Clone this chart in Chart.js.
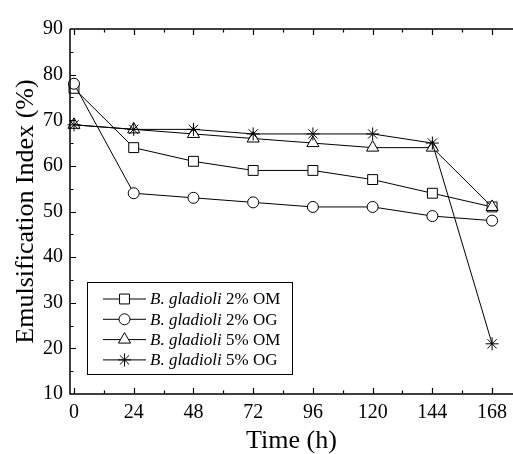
<!DOCTYPE html>
<html>
<head>
<meta charset="utf-8">
<script src="https://cdn.jsdelivr.net/npm/chart.js@4"></script>
<style>
  html, body { margin: 0; padding: 0; background: #fff; }
  #wrap { width: 513px; height: 454px; }
</style>
</head>
<body>
<div id="wrap"><canvas id="chart" width="513" height="454"></canvas></div>
<script>
// time points (h) and emulsification index (%)
const hours = [0, 24, 48, 72, 96, 120, 144, 168];
const om2 = [77, 64, 61, 59, 59, 57, 54, 51];
const og2 = [78, 54, 53, 52, 51, 51, 49, 48];
const om5 = [69, 68, 67, 66, 65, 64, 64, 51];
const og5 = [69, 68, 68, 67, 67, 67, 65, 21];

const seriesNames = ['2% OM', '2% OG', '5% OM', '5% OG'];
const species = 'B. gladioli';
const xTicks = [0, 24, 48, 72, 96, 120, 144, 168];
const yTicks = [10, 20, 30, 40, 50, 60, 70, 80, 90];

const serif = 'Liberation Serif';

const toPoints = (vals) => hours.map((h, i) => ({ x: h, y: vals[i] }));

const markers = [
  { style: 'rect', radius: 7 },
  { style: 'circle', radius: 5.5 },
  { style: 'triangle', radius: 7 },
  { style: 'star', radius: 6.5 }
];

// later series sit on top, as in the original plot
const datasets = [om2, og2, om5, og5].map((vals, i) => ({
  label: species + ' ' + seriesNames[i],
  data: toPoints(vals),
  order: 4 - i,
  borderColor: '#000',
  borderWidth: 1,
  backgroundColor: '#fff',
  pointStyle: markers[i].style,
  pointRadius: markers[i].radius,
  pointBorderWidth: 1,
  pointBackgroundColor: '#fff',
  pointBorderColor: '#000',
  clip: false,
  tension: 0
}));

// axes frame, inward tick marks and the boxed legend
const framePlugin = {
  id: 'frame',
  afterDraw(chart) {
    const { ctx, chartArea: a, scales: { x, y } } = chart;
    ctx.save();
    ctx.strokeStyle = '#000';
    ctx.lineWidth = 1.5;
    ctx.beginPath();
    ctx.moveTo(a.left, a.top);
    ctx.lineTo(a.left, a.bottom);
    ctx.lineTo(a.right, a.bottom);
    ctx.moveTo(a.left, a.top);
    ctx.lineTo(a.right, a.top);
    ctx.stroke();

    ctx.lineWidth = 1.2;
    ctx.beginPath();
    for (let v = 0; v <= 176; v += 12) {
      const px = Math.round(x.getPixelForValue(v)) + 0.5;
      const len = v % 24 === 0 ? 6 : 3.5;
      ctx.moveTo(px, a.bottom);
      ctx.lineTo(px, a.bottom - len);
      ctx.moveTo(px, a.top);
      ctx.lineTo(px, a.top + len);
    }
    for (let v = 15; v < 90; v += 5) {
      const py = Math.round(y.getPixelForValue(v)) + 0.5;
      const len = v % 10 === 0 ? 6 : 3.5;
      ctx.moveTo(a.left, py);
      ctx.lineTo(a.left + len, py);
    }
    ctx.stroke();

    // legend box
    const bx = 87, by = 282, bw = 205, bh = 92;
    ctx.lineWidth = 1;
    ctx.strokeRect(bx + 0.5, by + 0.5, bw, bh);
    chart.data.datasets.forEach((ds, i) => {
      const ly = by + 17 + i * 20.3;
      ctx.strokeStyle = '#000';
      ctx.lineWidth = 1;
      ctx.beginPath();
      ctx.moveTo(103, ly);
      ctx.lineTo(146, ly);
      ctx.stroke();
      ctx.fillStyle = '#fff';
      Chart.helpers.drawPoint(ctx, {
        pointStyle: ds.pointStyle,
        radius: ds.pointRadius,
        rotation: 0,
        borderWidth: 1
      }, 124.5, ly);
      ctx.fillStyle = '#000';
      ctx.textBaseline = 'middle';
      ctx.textAlign = 'left';
      ctx.font = 'italic 17px "' + serif + '"';
      const sp = species + ' ';
      ctx.fillText(sp, 150, ly + 1);
      const w = ctx.measureText(sp).width;
      ctx.font = '17px "' + serif + '"';
      ctx.fillText(seriesNames[i], 150 + w, ly + 1);
    });
    ctx.restore();
  }
};

new Chart(document.getElementById('chart'), {
  type: 'line',
  data: { datasets },
  plugins: [framePlugin],
  options: {
    responsive: false,
    animation: false,
    layout: { autoPadding: false, padding: { top: 29, right: 0, left: 0, bottom: 0 } },
    plugins: {
      legend: { display: false },
      tooltip: { enabled: false }
    },
    scales: {
      x: {
        type: 'linear',
        min: -1.6,
        max: 176.4,
        afterBuildTicks: (s) => { s.ticks = xTicks.map(v => ({ value: v })); },
        afterFit: (s) => { s.height = 60; s.paddingLeft = 0; s.paddingRight = 0; },
        grid: { display: false, drawTicks: false },
        border: { display: false },
        ticks: {
          color: '#000',
          padding: 7,
          maxRotation: 0,
          autoSkip: false,
          font: { family: serif, size: 20 }
        },
        title: {
          display: true,
          text: 'Time (h)',
          color: '#000',
          font: { family: serif, size: 26, lineHeight: 1 },
          padding: { top: 0, bottom: 0 }
        }
      },
      y: {
        type: 'linear',
        min: 10,
        max: 90,
        afterBuildTicks: (s) => { s.ticks = yTicks.map(v => ({ value: v })); },
        afterFit: (s) => { s.width = 70; s.paddingTop = 0; s.paddingBottom = 0; },
        grid: { display: false, drawTicks: false },
        border: { display: false },
        ticks: {
          color: '#000',
          padding: 7,
          font: { family: serif, size: 20 }
        },
        title: {
          display: true,
          text: 'Emulsification Index (%)',
          color: '#000',
          font: { family: serif, size: 26, lineHeight: 1 },
          padding: { top: 13, bottom: 0 }
        }
      }
    }
  }
});
</script>
</body>
</html>
